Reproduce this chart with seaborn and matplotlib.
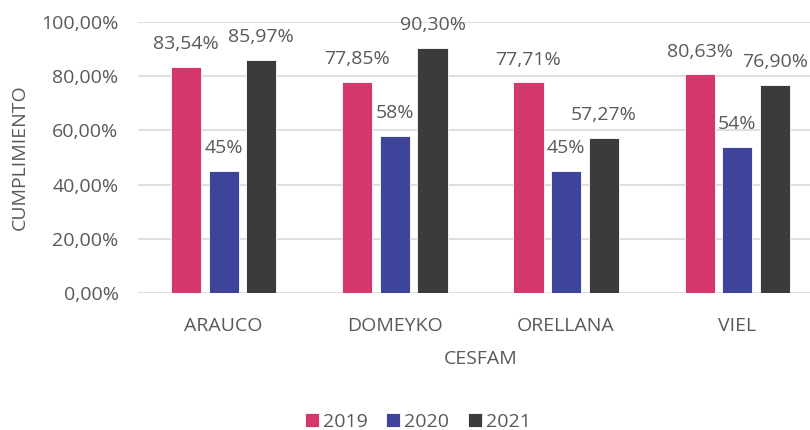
import pandas as pd
import matplotlib
matplotlib.use("Agg")
import matplotlib.pyplot as plt
import seaborn as sns

# datos
cesfam = ["ARAUCO", "DOMEYKO", "ORELLANA", "VIEL"]
anios = ["2019", "2020", "2021"]
v2019 = [83.54, 77.85, 77.71, 80.63]
v2020 = [45, 58, 45, 54]
v2021 = [85.97, 90.30, 57.27, 76.90]
colores = ["#D4376E", "#3E4499", "#3B3B3B"]

data = pd.DataFrame({
    "CESFAM": cesfam * 3,
    "anio": [a for a in anios for _ in cesfam],
    "valor": v2019 + v2020 + v2021,
})

sns.set_style("white")
plt.rcParams["font.family"] = ["Open Sans", "DejaVu Sans"]
gris = "#595959"
fs = 14

fig = plt.figure(figsize=(8.1, 4.3), dpi=100)
ax = fig.add_axes([138 / 810, 1 - 293 / 430, 685 / 810, 271 / 430])

sns.barplot(data=data, x="CESFAM", y="valor", hue="anio", palette=colores,
            saturation=1, width=0.66, gap=0.2, edgecolor="white",
            linewidth=0.6, ax=ax, legend=True)

# etiquetas de datos (2020 sin decimales)
for i, cont in enumerate(ax.containers):
    if anios[i] == "2020":
        labs = [f"{v:.0f}%" for v in cont.datavalues]
    else:
        labs = [f"{v:.2f}%".replace(".", ",") for v in cont.datavalues]
    ax.bar_label(cont, labels=labs, padding=10, fontsize=fs, color=gris)

ax.set_ylim(0, 100)
ax.set_yticks(range(0, 101, 20))
ax.set_yticklabels([f"{t},00%" for t in range(0, 101, 20)])
ax.grid(axis="y", color="#D9D9D9", linewidth=1.2)
ax.set_axisbelow(True)
for s in ax.spines.values():
    s.set_visible(False)
ax.tick_params(axis="both", length=0, labelsize=fs, labelcolor=gris)
ax.tick_params(axis="y", pad=14)
ax.tick_params(axis="x", pad=17)

ax.set_ylabel("CUMPLIMIENTO", fontsize=fs, color=gris)
ax.set_xlabel("CESFAM", fontsize=fs, color=gris)
ax.yaxis.set_label_coords(-0.16, 0.5)
ax.xaxis.set_label_coords(0.5, -0.21)

ax.get_legend().remove()
h, l = ax.get_legend_handles_labels()
fig.legend(h, l, loc="center", bbox_to_anchor=(418 / 810, 1 - 422 / 430),
           ncol=3, frameon=False, fontsize=fs, labelcolor=gris,
           handlelength=0.72, handleheight=0.72, handletextpad=0.2,
           columnspacing=0.95, borderpad=0)

fig.savefig("out.png", dpi=100)
